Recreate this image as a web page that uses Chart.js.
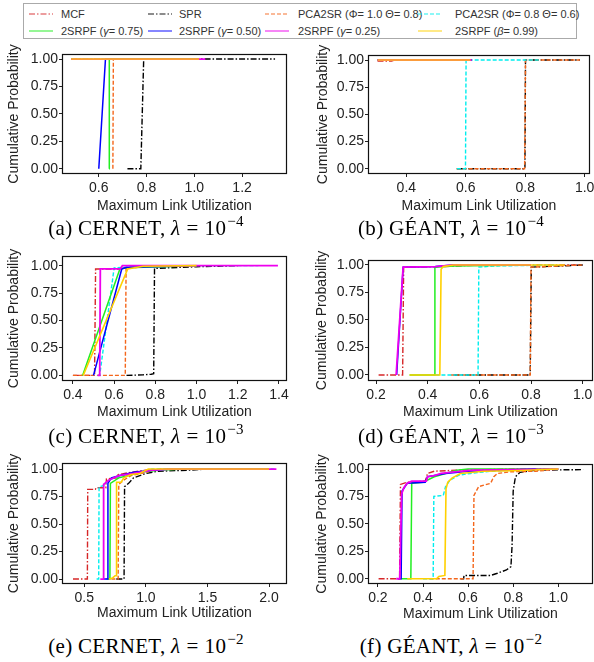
<!DOCTYPE html>
<html><head><meta charset="utf-8">
<script src="https://cdn.jsdelivr.net/npm/chart.js@4.4.1/dist/chart.umd.min.js"></script>
<style>
html,body{margin:0;padding:0;background:#fff;}
body{width:594px;height:662px;position:relative;overflow:hidden;font-family:"Liberation Sans",Arial,sans-serif;}
.cap{position:absolute;font-family:"Liberation Serif","Times New Roman",serif;font-size:21px;letter-spacing:0.3px;color:#000;white-space:nowrap;transform:translate(-50%,-50%);}
.cap sup{font-size:15px;vertical-align:0;position:relative;top:-9px;margin-left:1px;}
.cap .eq{margin:0 6px;}
#legend{position:absolute;left:23px;top:3px;width:554px;height:36px;border:1px solid #aaa;box-sizing:border-box;background:#fff;}
.li{position:absolute;font-size:11px;color:#333;white-space:nowrap;transform:translateY(-50%);}
.ls{position:absolute;transform:translateY(-50%);}
</style></head><body>
<div id="legend"></div>
<script>
// ---------- series (legend) ----------
const seriesNames = ['MCF','SPR','PCA2SR (\u03A6= 1.0 \u0398= 0.8)','PCA2SR (\u03A6= 0.8 \u0398= 0.6)',
  '2SRPF (\u03B3= 0.75)','2SRPF (\u03B3= 0.50)','2SRPF (\u03B3= 0.25)','2SRPF (\u03B2= 0.99)'];
const seriesColors = ['#d62728','#000000','#f4661b','#00eeee','#22ee22','#0000ff','#ee00ee','#ffd000'];
const seriesDash = [[6,2,1.5,2],[6,2,1.5,2],[4,2],[4,2],[],[],[],[]];
const seriesWidth = [1.4,1.4,1.4,1.4,1.5,1.5,1.8,1.6];

// ---------- axis ticks ----------
const yTicks = [0, 0.25, 0.5, 0.75, 1.0];
const xTicksA = [0.6, 0.8, 1.0, 1.2];
const xTicksB = [0.4, 0.6, 0.8, 1.0];
const xTicksC = [0.4, 0.6, 0.8, 1.0, 1.2, 1.4];
const xTicksD = [0.2, 0.4, 0.6, 0.8, 1.0];
const xTicksE = [0.5, 1.0, 1.5, 2.0];
const xTicksF = [0.2, 0.4, 0.6, 0.8, 1.0];

// ---------- (a) CERNET, lambda=1e-4 ----------
const cernet4X = [
  [0.484, 1.0],
  [0.72, 0.776, 0.788, 1.338],
  [0.659, 0.661, 1.0],
  [0.484, 1.0],
  [0.643, 0.644, 1.0],
  [0.60, 0.628, 1.02],
  [0.484, 1.046],
  [0.484, 1.02]];
const cernet4Y = [
  [1, 1],
  [0, 0, 1, 1],
  [0, 1, 1],
  [1, 1],
  [0, 1, 1],
  [0, 1, 1],
  [1, 1],
  [1, 1]];

// ---------- (b) GEANT, lambda=1e-4 ----------
const geant4X = [
  [0.303, 0.35, 0.36, 0.62],
  [0.570, 0.799, 0.801, 0.984],
  [0.569, 0.798, 0.801, 0.984],
  [0.570, 0.599, 0.601, 0.85],
  [0.303, 0.62],
  [0.303, 0.62],
  [0.303, 0.62],
  [0.303, 0.616]];
const geant4Y = [
  [0.99, 0.99, 1, 1],
  [0, 0, 1, 1],
  [0, 0, 1, 1],
  [0, 0, 1, 1],
  [1, 1],
  [1, 1],
  [1, 1],
  [1, 1]];

// ---------- (c) CERNET, lambda=1e-3 ----------
const cernet3X = [
  [0.40, 0.505, 0.51, 0.62, 0.66, 0.75, 1.0],
  [0.66, 0.74, 0.78, 0.792, 0.796, 0.86, 1.0, 1.2],
  [0.40, 0.654, 0.658, 0.75, 1.0],
  [0.52, 0.53, 0.60, 0.70, 1.0, 1.30],
  [0.447, 0.628, 0.66, 1.0],
  [0.50, 0.637, 0.66, 1.0],
  [0.52, 0.53, 0.533, 0.63, 0.64, 1.395],
  [0.45, 0.666, 0.74, 1.0]];
const cernet3Y = [
  [0, 0, 0.97, 0.97, 0.98, 1.0, 1.0],
  [0, 0.005, 0.01, 0.015, 0.975, 0.98, 0.99, 1.0],
  [0, 0, 0.975, 0.99, 1.0],
  [0, 0, 0.98, 0.99, 1.0, 1.0],
  [0, 0.97, 0.98, 1.0],
  [0, 0.97, 0.985, 1.0],
  [0, 0, 0.97, 0.97, 1.0, 1.0],
  [0, 0.97, 0.995, 1.0]];

// ---------- (d) GEANT, lambda=1e-3 ----------
const geant3X = [
  [0.21, 0.303, 0.307, 0.45, 0.6, 1.0],
  [0.50, 0.797, 0.801, 0.9, 1.0],
  [0.49, 0.797, 0.80, 0.9, 1.0],
  [0.43, 0.595, 0.598, 0.65, 0.9],
  [0.33, 0.425, 0.428, 0.5, 0.8],
  [0.28, 0.305, 0.43, 0.5, 0.8],
  [0.278, 0.305, 0.43, 0.5, 0.8],
  [0.33, 0.447, 0.452, 0.46, 0.5, 0.93]];
const geant3Y = [
  [0, 0, 0.98, 0.985, 1.0, 1.0],
  [0, 0, 0.98, 0.99, 1.0],
  [0, 0, 0.98, 0.99, 1.0],
  [0, 0, 0.98, 0.99, 1.0],
  [0, 0, 0.98, 0.99, 1.0],
  [0, 0.98, 0.985, 1.0, 1.0],
  [0, 0.98, 0.985, 1.0, 1.0],
  [0, 0, 0.96, 0.985, 1.0, 1.0]];

// ---------- (e) CERNET, lambda=1e-2 ----------
const cernet2X = [
  [0.408, 0.525, 0.528, 0.59, 0.595, 0.675, 0.68, 0.77, 0.775, 0.88, 1.0, 1.2, 2.0],
  [0.76, 0.823, 0.827, 0.86, 0.9, 1.0, 1.1, 1.35, 1.5],
  [0.72, 0.775, 0.78, 0.82, 0.88, 1.0, 1.1, 2.0],
  [0.60, 0.617, 0.62, 0.66, 0.70, 0.80, 0.95, 1.05, 2.06],
  [0.68, 0.708, 0.712, 0.78, 0.85, 0.95, 1.1, 1.3, 2.0],
  [0.66, 0.688, 0.692, 0.72, 0.78, 0.9, 1.05, 1.2, 2.0],
  [0.63, 0.654, 0.657, 0.70, 0.78, 0.9, 1.05, 1.2, 2.06],
  [0.70, 0.73, 0.75, 0.758, 0.762, 0.80, 0.82, 0.88, 0.95, 1.02, 2.0]];
const cernet2Y = [
  [0, 0, 0.815, 0.815, 0.83, 0.83, 0.91, 0.92, 0.95, 0.97, 0.99, 1.0, 1.0],
  [0, 0, 0.84, 0.87, 0.92, 0.96, 0.98, 0.99, 1.0],
  [0, 0, 0.86, 0.90, 0.94, 0.97, 1.0, 1.0],
  [0, 0, 0.84, 0.85, 0.90, 0.94, 0.97, 1.0, 1.0],
  [0, 0, 0.87, 0.92, 0.94, 0.97, 0.99, 1.0, 1.0],
  [0, 0, 0.87, 0.92, 0.94, 0.97, 0.99, 1.0, 1.0],
  [0, 0, 0.86, 0.90, 0.94, 0.96, 0.99, 1.0, 1.0],
  [0, 0.01, 0.03, 0.03, 0.88, 0.88, 0.92, 0.95, 0.96, 1.0, 1.0]];

// ---------- (f) GEANT, lambda=1e-2 ----------
const geant2X = [
  [0.203, 0.296, 0.30, 0.33, 0.41, 0.42, 0.45, 0.55, 0.8, 1.0],
  [0.566, 0.58, 0.582, 0.70, 0.73, 0.77, 0.79, 0.795, 0.80, 0.81, 0.83, 0.9, 1.11],
  [0.43, 0.622, 0.626, 0.647, 0.70, 0.714, 0.73, 0.79, 0.9, 1.0],
  [0.40, 0.445, 0.448, 0.49, 0.50, 0.52, 0.56, 0.61, 0.70, 0.90],
  [0.30, 0.346, 0.35, 0.40, 0.45, 0.50, 0.55, 0.60, 1.0],
  [0.29, 0.303, 0.307, 0.33, 0.41, 0.42, 0.50, 0.60, 0.90],
  [0.281, 0.297, 0.305, 0.315, 0.33, 0.35, 0.415, 0.42, 0.45, 0.48, 0.54, 0.62, 0.8, 1.0],
  [0.33, 0.46, 0.47, 0.497, 0.502, 0.51, 0.53, 0.566, 0.67, 0.8, 1.0]];
const geant2Y = [
  [0, 0, 0.86, 0.88, 0.89, 0.96, 0.98, 0.99, 1.0, 1.0],
  [0, 0, 0.03, 0.03, 0.05, 0.08, 0.11, 0.3, 0.8, 0.93, 0.97, 0.99, 0.995],
  [0, 0, 0.76, 0.84, 0.87, 0.93, 0.96, 0.975, 0.98, 1.0],
  [0, 0, 0.75, 0.76, 0.84, 0.90, 0.945, 0.96, 0.98, 1.0],
  [0, 0, 0.87, 0.88, 0.93, 0.96, 0.99, 1.0, 1.0],
  [0, 0, 0.80, 0.87, 0.88, 0.93, 0.96, 0.98, 1.0],
  [0, 0, 0.77, 0.83, 0.87, 0.89, 0.89, 0.93, 0.94, 0.96, 0.975, 0.99, 0.995, 1.0],
  [0, 0, 0.02, 0.03, 0.82, 0.88, 0.92, 0.96, 0.98, 0.985, 1.0]];

// ---------- legend ----------
const legendRows = [10, 27];
const legendSampleX = [5, 124, 241, 394];
const legendTextX = [37, 155, 274, 431];
const lg = document.getElementById('legend');
seriesNames.forEach((name, i) => {
  const col = i % 4, row = Math.floor(i / 4);
  const svg = document.createElementNS('http://www.w3.org/2000/svg', 'svg');
  svg.setAttribute('width', 24); svg.setAttribute('height', 4);
  svg.setAttribute('class', 'ls');
  svg.style.left = legendSampleX[col] + 'px'; svg.style.top = legendRows[row] + 'px';
  const ln = document.createElementNS('http://www.w3.org/2000/svg', 'line');
  ln.setAttribute('x1', 0); ln.setAttribute('x2', 24); ln.setAttribute('y1', 2); ln.setAttribute('y2', 2);
  ln.setAttribute('stroke', seriesColors[i]); ln.setAttribute('stroke-opacity', 0.6);
  ln.setAttribute('stroke-width', 1.6);
  if (seriesDash[i].length) ln.setAttribute('stroke-dasharray', seriesDash[i].join(' '));
  svg.appendChild(ln); lg.appendChild(svg);
  const t = document.createElement('div');
  t.className = 'li';
  t.style.left = legendTextX[col] + 'px'; t.style.top = legendRows[row] + 'px';
  t.innerHTML = name.replace(/([\u03B3\u03B2])/g, '<i>$1</i>');
  lg.appendChild(t);
});

// ---------- charts ----------
const framePlugin = {
  id: 'frame',
  afterDraw(c) {
    const a = c.chartArea, ctx = c.ctx;
    ctx.save(); ctx.strokeStyle = '#111'; ctx.lineWidth = 1.2;
    ctx.strokeRect(Math.round(a.left) + 0.5, Math.round(a.top) + 0.5, Math.round(a.width) - 1, Math.round(a.height) - 1);
    ctx.restore();
  }
};
const tickFont = {family: '"Liberation Sans", Arial, sans-serif', size: 14};
const txtColor = '#222';

function makeChart(p) {
  const cv = document.createElement('canvas');
  cv.width = p.cw; cv.height = p.ch;
  cv.style.cssText = `position:absolute;left:${p.cx}px;top:${p.cy}px;width:${p.cw}px;height:${p.ch}px`;
  document.body.appendChild(cv);
  const yW = p.L - p.cx, xH = p.cy + p.ch - p.B;
  const datasets = seriesNames.map((name, i) => ({
    label: name,
    data: p.xs[i].map((x, j) => ({x: x, y: p.ys[i][j]})),
    borderColor: seriesColors[i], borderWidth: seriesWidth[i], borderDash: seriesDash[i],
    pointRadius: 0, tension: 0, fill: false, order: seriesNames.length - i
  }));
  new Chart(cv, {
    type: 'line',
    data: {datasets},
    options: {
      responsive: false, animation: false, devicePixelRatio: 1,
      layout: {autoPadding: false, padding: {left: 0, top: p.T - p.cy, right: p.cx + p.cw - p.R, bottom: 0}},
      plugins: {legend: {display: false}, tooltip: {enabled: false}},
      scales: {
        x: {
          type: 'linear', min: p.xmin, max: p.xmax,
          afterBuildTicks: s => { s.ticks = p.xticks.map(v => ({value: v})); },
          ticks: {callback: v => Number(v).toFixed(1), font: tickFont, color: txtColor, padding: 3, maxRotation: 0, autoSkip: false},
          grid: {display: true, drawOnChartArea: false, tickLength: 3, color: '#222'},
          border: {display: false},
          title: {display: true, text: 'Maximum Link Utilization', font: tickFont, color: txtColor, padding: {top: 0, bottom: p.xtPad}},
          afterFit: s => { s.height = xH; s.paddingLeft = 0; s.paddingRight = 0; }
        },
        y: {
          type: 'linear', min: p.ymin, max: p.ymax,
          afterBuildTicks: s => { s.ticks = yTicks.map(v => ({value: v})); },
          ticks: {callback: v => Number(v).toFixed(2), font: tickFont, color: txtColor, padding: 1, autoSkip: false},
          grid: {display: true, drawOnChartArea: false, tickLength: 3, color: '#222'},
          border: {display: false},
          title: {display: true, text: 'Cumulative Probability', font: tickFont, color: txtColor, padding: {top: p.ytPad, bottom: 0}},
          afterFit: s => { s.width = yW; s.paddingTop = 0; s.paddingBottom = 0; }
        }
      }
    },
    plugins: [framePlugin]
  });
}

makeChart({cx: 0, cy: 40, cw: 297, ch: 176, L: 62, T: 54, R: 287, B: 174, xmin: 0.446, xmax: 1.388, ymin: -0.048, ymax: 1.046, xticks: xTicksA, ytPad: 5.6, xtPad: 1.6, xs: cernet4X, ys: cernet4Y});
makeChart({cx: 297, cy: 40, cw: 297, ch: 176, L: 368, T: 55, R: 590, B: 174, xmin: 0.271, xmax: 1.018, ymin: -0.048, ymax: 1.046, xticks: xTicksB, ytPad: 17.6, xtPad: 1.9, xs: geant4X, ys: geant4Y});
makeChart({cx: 0, cy: 240, cw: 297, ch: 182, L: 62, T: 256, R: 287, B: 381, xmin: 0.347, xmax: 1.439, ymin: -0.051, ymax: 1.088, xticks: xTicksC, ytPad: 5.6, xtPad: 1.9, xs: cernet3X, ys: cernet3Y});
makeChart({cx: 297, cy: 240, cw: 297, ch: 182, L: 368, T: 260, R: 593, B: 381, xmin: 0.169, xmax: 1.04, ymin: -0.055, ymax: 1.045, xticks: xTicksD, ytPad: 16.6, xtPad: 1.3, xs: geant3X, ys: geant3Y});
makeChart({cx: 0, cy: 445, cw: 297, ch: 180, L: 62, T: 463, R: 287, B: 584, xmin: 0.319, xmax: 2.146, ymin: -0.045, ymax: 1.055, xticks: xTicksE, ytPad: 5.6, xtPad: 3.6, xs: cernet2X, ys: cernet2Y});
makeChart({cx: 297, cy: 445, cw: 297, ch: 180, L: 368, T: 464, R: 593, B: 584, xmin: 0.156, xmax: 1.154, ymin: -0.048, ymax: 1.046, xticks: xTicksF, ytPad: 16.6, xtPad: 2.6, xs: geant2X, ys: geant2Y});

// ---------- captions ----------
const captionText = ['(a) CERNET,', '(b) G\u00C9ANT,', '(c) CERNET,', '(d) G\u00C9ANT,', '(e) CERNET,', '(f) G\u00C9ANT,'];
const captionExp = ['\u22124', '\u22124', '\u22123', '\u22123', '\u22122', '\u22122'];
const captionX = [146, 451, 146, 451, 146, 451];
const captionY = [228, 228, 436, 436, 646, 646];
captionText.forEach((t, i) => {
  const d = document.createElement('div');
  d.className = 'cap';
  d.style.left = captionX[i] + 'px'; d.style.top = captionY[i] + 'px';
  d.innerHTML = t + ' <i>\u03BB</i><span class="eq">=</span>10<sup>' + captionExp[i] + '</sup>';
  document.body.appendChild(d);
});
</script>
</body></html>
